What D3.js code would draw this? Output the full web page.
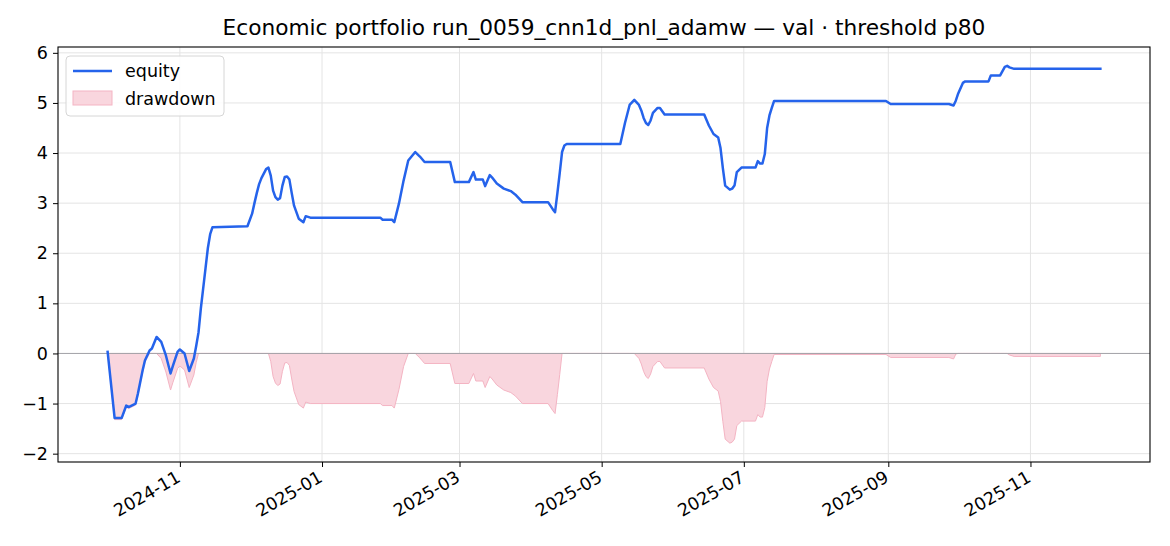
<!DOCTYPE html>
<html>
<head>
<meta charset="utf-8">
<script src="https://cdn.jsdelivr.net/npm/d3@7"></script>
<style>
  html, body { margin: 0; padding: 0; background: #fff; }
  svg { display: block; font-family: "DejaVu Sans", sans-serif; }
</style>
</head>
<body>
<svg id="chart" width="1170" height="546"></svg>
<script>
// ---- data ----
const dates = [
  "2024-10-01","2024-10-04","2024-10-07","2024-10-09","2024-10-10","2024-10-13","2024-10-14","2024-10-16",
  "2024-10-17","2024-10-19","2024-10-20","2024-10-22","2024-10-24","2024-10-26","2024-10-28","2024-10-29",
  "2024-10-31","2024-11-01","2024-11-03","2024-11-05","2024-11-07","2024-11-08","2024-11-09","2024-11-10",
  "2024-11-11","2024-11-12","2024-11-13","2024-11-14","2024-11-15","2024-11-30","2024-12-02","2024-12-03",
  "2024-12-04","2024-12-05","2024-12-06","2024-12-08","2024-12-09","2024-12-10","2024-12-11","2024-12-12",
  "2024-12-13","2024-12-14","2024-12-15","2024-12-16","2024-12-17","2024-12-18","2024-12-19","2024-12-20",
  "2024-12-22","2024-12-24","2024-12-25","2024-12-27","2025-01-26","2025-01-27","2025-01-31","2025-02-01",
  "2025-02-03","2025-02-05","2025-02-07","2025-02-10","2025-02-12","2025-02-14","2025-02-25","2025-02-27",
  "2025-03-05","2025-03-07","2025-03-08","2025-03-11","2025-03-12","2025-03-14","2025-03-15","2025-03-17",
  "2025-03-20","2025-03-23","2025-03-25","2025-03-28","2025-04-08","2025-04-09","2025-04-10","2025-04-11",
  "2025-04-12","2025-04-13","2025-04-14","2025-04-15","2025-04-16","2025-05-09","2025-05-11","2025-05-13",
  "2025-05-15","2025-05-17","2025-05-18","2025-05-19","2025-05-20","2025-05-21","2025-05-22","2025-05-23",
  "2025-05-25","2025-05-26","2025-05-28","2025-06-14","2025-06-16","2025-06-18","2025-06-20","2025-06-21",
  "2025-06-22","2025-06-23","2025-06-25","2025-06-26","2025-06-27","2025-06-28","2025-06-30","2025-07-06",
  "2025-07-07","2025-07-08","2025-07-09","2025-07-10","2025-07-11","2025-07-12","2025-07-13","2025-07-14",
  "2025-08-31","2025-09-02","2025-09-27","2025-09-29","2025-09-30","2025-10-01","2025-10-03","2025-10-04",
  "2025-10-14","2025-10-15","2025-10-19","2025-10-21","2025-10-22","2025-10-23","2025-10-25","2025-12-01"
];
const equity = [
  0.03,-1.29,-1.29,-1.04,-1.07,-1.00,-0.80,-0.34,
  -0.14,0.06,0.10,0.33,0.23,-0.04,-0.40,-0.25,
  0.03,0.08,0.00,-0.35,-0.10,0.15,0.42,0.90,
  1.30,1.70,2.10,2.38,2.52,2.54,2.79,3.00,
  3.20,3.38,3.50,3.68,3.71,3.55,3.25,3.12,
  3.07,3.10,3.35,3.52,3.53,3.47,3.20,2.95,
  2.69,2.62,2.74,2.71,2.71,2.67,2.67,2.62,
  2.99,3.45,3.85,4.02,3.93,3.82,3.82,3.42,
  3.42,3.62,3.47,3.47,3.34,3.56,3.51,3.39,
  3.29,3.24,3.17,3.02,3.02,2.95,2.88,2.82,
  3.20,3.60,4.02,4.15,4.18,4.18,4.60,4.96,
  5.06,4.96,4.85,4.70,4.60,4.56,4.65,4.80,
  4.90,4.90,4.77,4.77,4.55,4.38,4.31,4.10,
  3.70,3.35,3.27,3.29,3.35,3.62,3.71,3.71,
  3.84,3.79,3.79,3.98,4.50,4.75,4.90,5.04,
  5.04,4.98,4.98,4.95,5.05,5.19,5.40,5.43,
  5.43,5.55,5.55,5.72,5.74,5.71,5.68,5.68
];
const drawdown = [
  0.00,-1.32,-1.32,-1.07,-1.10,-1.03,-0.83,-0.37,
  -0.17,0.00,0.00,0.00,-0.10,-0.37,-0.73,-0.58,
  -0.30,-0.25,-0.33,-0.68,-0.43,-0.18,0.00,0.00,
  0.00,0.00,0.00,0.00,0.00,0.00,0.00,0.00,
  0.00,0.00,0.00,0.00,0.00,-0.16,-0.46,-0.59,
  -0.64,-0.61,-0.36,-0.19,-0.18,-0.24,-0.51,-0.76,
  -1.02,-1.09,-0.97,-1.00,-1.00,-1.04,-1.04,-1.09,
  -0.72,-0.26,0.00,0.00,-0.09,-0.20,-0.20,-0.60,
  -0.60,-0.40,-0.55,-0.55,-0.68,-0.46,-0.51,-0.63,
  -0.73,-0.78,-0.85,-1.00,-1.00,-1.07,-1.14,-1.20,
  -0.82,-0.42,0.00,0.00,0.00,0.00,0.00,0.00,
  0.00,-0.10,-0.21,-0.36,-0.46,-0.50,-0.41,-0.26,
  -0.16,-0.16,-0.29,-0.29,-0.51,-0.68,-0.75,-0.96,
  -1.36,-1.71,-1.79,-1.77,-1.71,-1.44,-1.35,-1.35,
  -1.22,-1.27,-1.27,-1.08,-0.56,-0.31,-0.16,-0.02,
  -0.02,-0.08,-0.08,-0.11,-0.01,0.00,0.00,0.00,
  0.00,0.00,0.00,0.00,0.00,-0.03,-0.06,-0.06
];
const yTicks = [-2, -1, 0, 1, 2, 3, 4, 5, 6];
const xTickLabels = ["2024-11","2025-01","2025-03","2025-05","2025-07","2025-09","2025-11"];
const titleText = "Economic portfolio run_0059_cnn1d_pnl_adamw — val · threshold p80";
const legendLabels = ["equity", "drawdown"];

// ---- layout ----
const W = 1170, H = 546;
const M = { left: 58, right: 1150, top: 47, bottom: 462 };
const FS = 17.5;      // tick / legend font size
const parse = d3.utcParse("%Y-%m-%d");
const rows = dates.map((d, i) => ({ date: parse(d), eq: equity[i], dd: drawdown[i] }));

const svg = d3.select("#chart");

// x domain with matplotlib-like 5% margins
const [x0, x1] = d3.extent(rows, r => r.date);
const span = x1 - x0;
const x = d3.scaleUtc()
  .domain([new Date(+x0 - span * 0.05), new Date(+x1 + span * 0.05)])
  .range([M.left, M.right]);

const yMin = Math.min(d3.min(equity), d3.min(drawdown), 0);
const yMax = Math.max(d3.max(equity), d3.max(drawdown), 0);
const ySpan = yMax - yMin;
const y = d3.scaleLinear()
  .domain([yMin - ySpan * 0.05, yMax + ySpan * 0.05])
  .range([M.bottom, M.top]);

const xTickDates = xTickLabels.map(s => parse(s + "-01"));

// grid
const grid = svg.append("g");
grid.selectAll("line.gx").data(xTickDates).enter().append("line")
  .attr("x1", d => x(d)).attr("x2", d => x(d))
  .attr("y1", M.top).attr("y2", M.bottom)
  .attr("stroke", "#e4e4e4").attr("stroke-width", 1);
grid.selectAll("line.gy").data(yTicks).enter().append("line")
  .attr("x1", M.left).attr("x2", M.right)
  .attr("y1", d => y(d)).attr("y2", d => y(d))
  .attr("stroke", "#e4e4e4").attr("stroke-width", 1);

// drawdown fill
const area = d3.area()
  .x(r => x(r.date))
  .y0(() => y(0))
  .y1(r => y(r.dd));
svg.append("path").datum(rows)
  .attr("d", area)
  .attr("fill", "#f9d6de")
  .attr("stroke", "#f4b4c3")
  .attr("stroke-width", 1);

// zero line
svg.append("line")
  .attr("x1", M.left).attr("x2", M.right)
  .attr("y1", y(0)).attr("y2", y(0))
  .attr("stroke", "#a3a3a8").attr("stroke-width", 1);

// equity line
const line = d3.line().x(r => x(r.date)).y(r => y(r.eq)).curve(d3.curveLinear);
svg.append("path").datum(rows)
  .attr("d", line)
  .attr("fill", "none")
  .attr("stroke", "#2563eb")
  .attr("stroke-width", 2.5)
  .attr("stroke-linejoin", "round")
  .attr("stroke-linecap", "square");

// axes
const xAxis = svg.append("g")
  .attr("transform", `translate(0,${M.bottom})`)
  .call(d3.axisBottom(x).tickValues(xTickDates).tickFormat((d, i) => xTickLabels[i]).tickSize(5).tickPadding(4));
xAxis.select(".domain").remove();
xAxis.selectAll("text")
  .attr("font-size", FS)
  .attr("font-family", "DejaVu Sans")
  .attr("fill", "#000")
  .attr("text-anchor", "end")
  .attr("dy", "0.71em")
  .attr("transform", "translate(-5,8) rotate(-30)")
  .attr("y", 0).attr("x", 0);
xAxis.selectAll("line").attr("stroke", "#000").attr("stroke-width", 1);

const yAxis = svg.append("g")
  .attr("transform", `translate(${M.left},0)`)
  .call(d3.axisLeft(y).tickValues(yTicks).tickFormat(d => d < 0 ? "\u2212" + Math.abs(d) : String(d)).tickSize(5).tickPadding(5));
yAxis.select(".domain").remove();
yAxis.selectAll("text").attr("font-size", FS).attr("font-family", "DejaVu Sans").attr("fill", "#000");
yAxis.selectAll("line").attr("stroke", "#000").attr("stroke-width", 1);

// frame
svg.append("rect")
  .attr("x", M.left).attr("y", M.top)
  .attr("width", M.right - M.left).attr("height", M.bottom - M.top)
  .attr("fill", "none").attr("stroke", "#000").attr("stroke-width", 1.1);

// title
svg.append("text")
  .attr("x", (M.left + M.right) / 2).attr("y", 35)
  .attr("text-anchor", "middle")
  .attr("font-size", 21.7)
  .attr("fill", "#000")
  .text(titleText);

// legend
const lg = svg.append("g").attr("transform", "translate(66,56)");
lg.append("rect").attr("x", 0).attr("y", 0).attr("width", 158).attr("height", 60)
  .attr("rx", 4).attr("fill", "rgba(255,255,255,0.85)").attr("stroke", "#d6d6d6").attr("stroke-width", 1);
lg.append("line").attr("x1", 7).attr("x2", 46).attr("y1", 15).attr("y2", 15)
  .attr("stroke", "#2563eb").attr("stroke-width", 2.5);
lg.append("text").attr("x", 59).attr("y", 21).attr("font-size", FS).attr("fill", "#000").text(legendLabels[0]);
lg.append("rect").attr("x", 7).attr("y", 35).attr("width", 39).attr("height", 14)
  .attr("fill", "#f9d6de").attr("stroke", "#f4b4c3").attr("stroke-width", 1);
lg.append("text").attr("x", 59).attr("y", 49).attr("font-size", FS).attr("fill", "#000").text(legendLabels[1]);
</script>
</body>
</html>
